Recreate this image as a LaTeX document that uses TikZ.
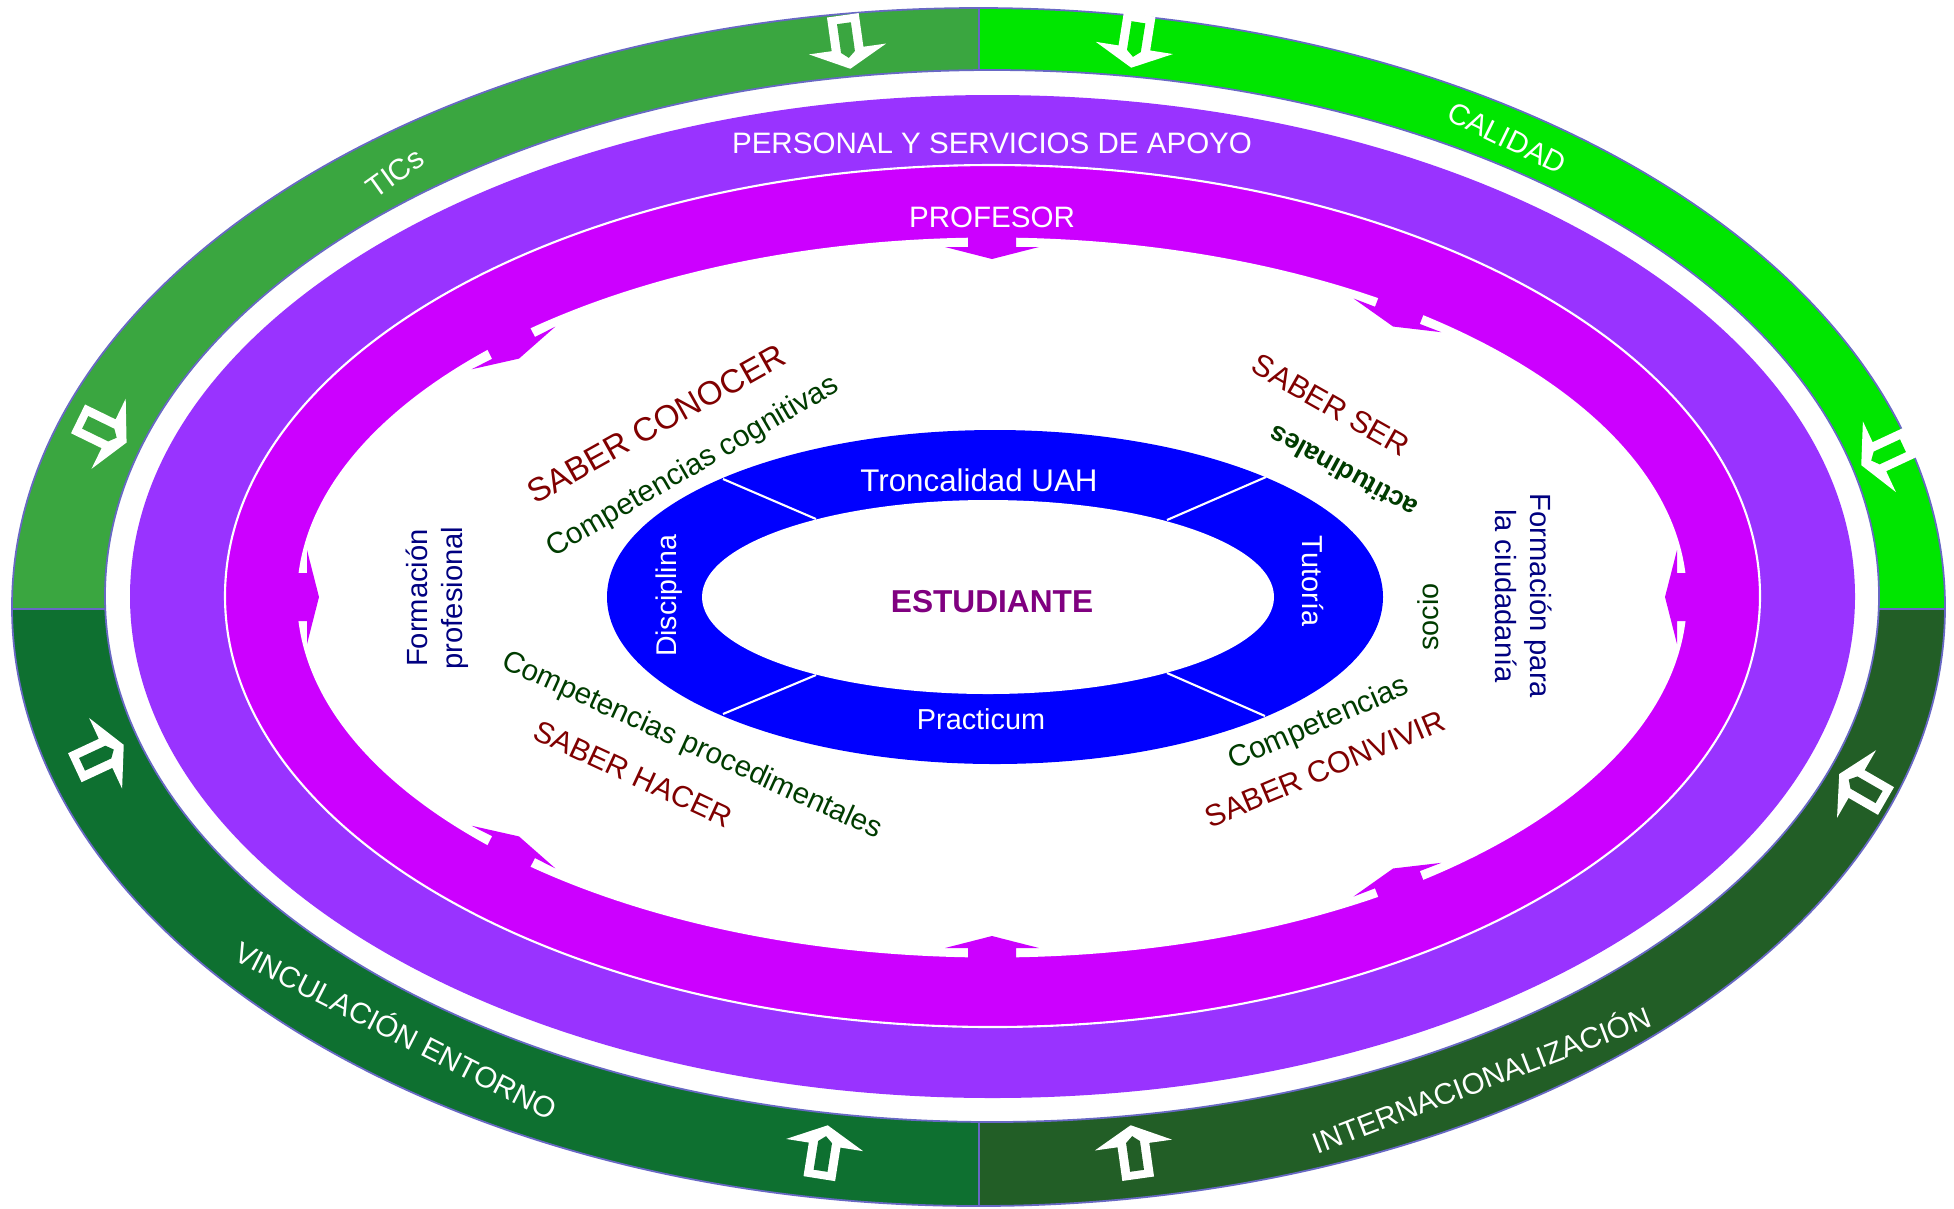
\documentclass[tikz,border=0pt]{standalone}
\usepackage{fontspec}
\setmainfont{Liberation Sans}
\usepackage{tikz}
\definecolor{ticgreen}{RGB}{58,166,64}
\definecolor{calgreen}{RGB}{0,230,0}
\definecolor{vingreen}{RGB}{14,112,48}
\definecolor{intgreen}{RGB}{34,94,38}
\definecolor{ringedge}{RGB}{104,104,196}
\definecolor{purplering}{RGB}{153,51,255}
\definecolor{magentaring}{RGB}{204,0,255}
\definecolor{saberred}{RGB}{128,0,0}
\definecolor{competgreen}{RGB}{0,60,0}
\definecolor{formnavy}{RGB}{0,0,128}
\definecolor{estudpurple}{RGB}{128,0,128}
\newcommand{\gquad}[5]{
\begin{scope}
\clip (#1,#2) rectangle (#3,#4);
\fill[#5] (978.5,607) ellipse [x radius=966.5, y radius=599];
\end{scope}
}
\newcommand{\garrow}[4]{
\begin{scope}[shift={(#1,#2)}, rotate=#3]
\fill[white] (-30,-16)--(4,-16)--(4,-39)--(24,0)--(4,39)--(4,16)--(-30,16)--cycle;
\fill[#4] (-22,-7)--(7,-7)--(13,0)--(7,7)--(-22,7)--cycle;
\end{scope}
}
\newcommand{\marrow}[3]{
\begin{scope}[shift={(#1,#2)}, rotate=#3]
\fill[magentaring] (-30,-24)--(10,-24)--(10,-47)--(22,0)--(10,47)--(10,24)--(-30,24)--cycle;
\end{scope}
}
\tikzset{
 ringline/.style={draw=ringedge, line width=0.5pt},
 lbl/.style={inner sep=0pt, font=\fontsize{8.4}{10}\selectfont},
 ringtext/.style={lbl, text=white},
 sabertext/.style={lbl, text=saberred},
 comptext/.style={lbl, text=competgreen},
 formtext/.style={lbl, text=formnavy, align=center}
}
\begin{document}
\begin{tikzpicture}[x=0.01cm, y=-0.01cm]
\useasboundingbox (0,0) rectangle (1954,1208);

\gquad{0}{0}{979}{609}{ticgreen}
\gquad{979}{0}{1954}{609}{calgreen}
\gquad{0}{609}{979}{1208}{vingreen}
\gquad{979}{609}{1954}{1208}{intgreen}

\fill[white] (992,596) ellipse [x radius=887, y radius=526];
\draw[ringline] (978.5,607) ellipse [x radius=966.5, y radius=599];
\draw[ringline] (992,596) ellipse [x radius=887, y radius=526];
\draw[ringline] (979,8)--(979,70);
\draw[ringline] (979,1122)--(979,1206);
\draw[ringline] (12,609)--(105,609);
\draw[ringline] (1879,609)--(1945,609);

\garrow{847}{45}{-82}{ticgreen}
\garrow{1135}{44}{-99}{calgreen}
\garrow{105}{432}{-26}{ticgreen}
\garrow{102}{755}{25}{vingreen}
\garrow{1883}{455}{-155}{calgreen}
\garrow{1860}{786}{150}{intgreen}
\garrow{824}{1149}{81}{vingreen}
\garrow{1134}{1149}{98}{intgreen}

\fill[purplering] (992.5,596.5) ellipse [x radius=862.5, y radius=501.5];
\fill[magentaring] (992.5,596) ellipse [x radius=767.5, y radius=431];
\draw[white, line width=0.6pt] (992.5,596) ellipse [x radius=767.5, y radius=431];
\fill[white] (992,597.5) ellipse [x radius=695, y radius=360];

\marrow{992}{237}{-90}
\marrow{1401}{306}{-111}
\marrow{1687}{597}{180}
\marrow{1401}{889}{111}
\marrow{992}{958}{90}
\marrow{509}{856}{63}
\marrow{297}{597}{0}
\marrow{509}{339}{-63}

\fill[blue] (995,597) ellipse [x radius=388, y radius=167];
\fill[white] (988,597) ellipse [x radius=286, y radius=97];
\draw[white, line width=0.6pt] (723,479)--(816,519);
\draw[white, line width=0.6pt] (1266,477)--(1167,520);
\draw[white, line width=0.6pt] (723,714)--(816,675);
\draw[white, line width=0.6pt] (1167,673)--(1265,716);

\node[ringtext] (personal) at (992,143) {PERSONAL Y SERVICIOS DE APOYO};
\node[ringtext] (profesor) at (992,217) {PROFESOR};
\node[ringtext, rotate=35.6] (tics) at (395,173) {TICs};
\node[ringtext, rotate=-26] (calidad) at (1507,138) {CALIDAD};
\node[ringtext, rotate=-27] (vinculacion) at (397,1029) {VINCULACIÓN ENTORNO};
\node[ringtext, rotate=21] (internac) at (1481,1078) {INTERNACIONALIZACIÓN};

\node[ringtext, font=\fontsize{8.9}{10}\selectfont] (troncal) at (979,480) {Troncalidad UAH};
\node[ringtext, font=\fontsize{8.2}{10}\selectfont] (practicum) at (981,719) {Practicum};
\node[ringtext, font=\fontsize{8.1}{10}\selectfont, rotate=90] (disciplina) at (669,596) {Disciplina};
\node[ringtext, font=\fontsize{8.2}{10}\selectfont, rotate=-90] (tutoria) at (1313,581) {Tutoría};
\node[lbl, text=estudpurple, font=\fontsize{9}{10}\selectfont\bfseries] (estudiante) at (992,602) {ESTUDIANTE};

\node[sabertext, font=\fontsize{9.4}{11}\selectfont, rotate=29.3] (saberconocer) at (656,424) {SABER CONOCER};
\node[comptext, font=\fontsize{8.5}{10}\selectfont, rotate=30.2] (compcog) at (693,467) {Competencias cognitivas};
\node[sabertext, font=\fontsize{8.7}{10}\selectfont, rotate=-29.6] (saberser) at (1331,405) {SABER SER};
\node[comptext, font=\fontsize{7.6}{10}\selectfont\bfseries, rotate=151.3] (actitud) at (1343,472) {actitudinales};
\node[comptext, font=\fontsize{8.2}{10}\selectfont, rotate=90] (socio) at (1428,617) {socio};
\node[comptext, rotate=-24.5] (compproc) at (692,746) {Competencias procedimentales};
\node[sabertext, font=\fontsize{8.5}{10}\selectfont, rotate=-24.9] (saberhacer) at (633,774) {SABER HACER};
\node[comptext, font=\fontsize{8.6}{10}\selectfont, rotate=23.4] (compconv) at (1319,724) {Competencias};
\node[sabertext, font=\fontsize{8.6}{10}\selectfont, rotate=22.8] (saberconvivir) at (1325,769) {SABER CONVIVIR};

\node[formtext, font=\fontsize{8.3}{10}\selectfont, rotate=90] (formprof) at (437,598) {Formación\\profesional};
\node[formtext, font=\fontsize{8.3}{10}\selectfont, rotate=-90] (formciud) at (1524,596) {Formación para\\la ciudadanía};

\end{tikzpicture}
\end{document}
